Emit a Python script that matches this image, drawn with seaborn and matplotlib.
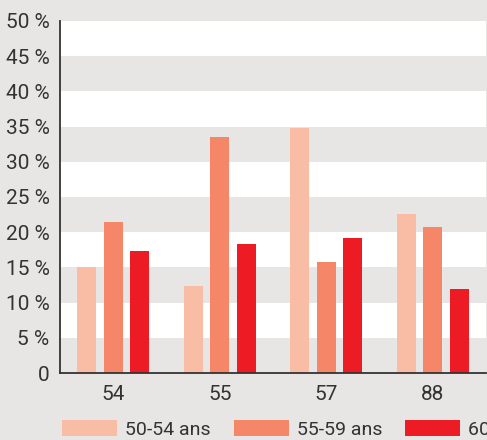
import matplotlib
matplotlib.use("Agg")
import matplotlib.pyplot as plt
import seaborn as sns
import pandas as pd

categories = ["54", "55", "57", "88"]
series_names = ["50-54 ans", "55-59 ans", "60 ans et plus"]
v_50_54 = [15.0, 12.4, 34.8, 22.6]
v_55_59 = [21.5, 33.5, 15.8, 20.7]
v_60 = [17.4, 18.3, 19.2, 11.9]
y_ticks = [0, 5, 10, 15, 20, 25, 30, 35, 40, 45, 50]
y_tick_labels = ["0"] + [f"{t} %" for t in y_ticks[1:]]

rows = []
for name, vals in zip(series_names, [v_50_54, v_55_59, v_60]):
    for c, v in zip(categories, vals):
        rows.append({"dep": c, "age": name, "val": v})
df = pd.DataFrame(rows)

sns.set_theme(style="white")
plt.rcParams['font.family'] = ['Roboto', 'DejaVu Sans']
bg = "#e8e6e5"
palette = ["#f9bca5", "#f58668", "#ed1c24"]
fs = 15
lfs = 14

fig = plt.figure(figsize=(4.87, 4.40), dpi=100, facecolor=bg)
ax = fig.add_axes([60/487, 67/440, 426/487, 352/440])
ax.set_facecolor("white")
for lo in range(0, 50, 10):
    ax.axhspan(lo, lo + 5, color=bg, lw=0, zorder=0)

sns.barplot(data=df, x="dep", y="val", hue="age", palette=palette,
            order=categories, hue_order=series_names,
            width=0.75, gap=0.28, saturation=1, ax=ax, zorder=2, legend=True,
            linewidth=0, edgecolor="none")

ax.set_xlim(-0.5, 3.5)
ax.set_ylim(0, 50)
ax.set_yticks(y_ticks)
ax.set_yticklabels(y_tick_labels)
ax.set_xlabel("")
ax.set_ylabel("")
ax.tick_params(axis="y", length=0, labelsize=fs, colors="#333333", pad=7.5)
ax.tick_params(axis="x", length=0, labelsize=fs, colors="#333333", pad=8.5)
for s in ["top", "right"]:
    ax.spines[s].set_visible(False)
for s in ["left", "bottom"]:
    ax.spines[s].set_color("#333333")
    ax.spines[s].set_linewidth(1.3)
    ax.spines[s].set_zorder(5)

handles, labels = ax.get_legend_handles_labels()
px = lfs * 100 / 72
ax.legend(handles, labels, loc="upper left", bbox_to_anchor=(2/426, -0.134),
          ncol=3, frameon=False, fontsize=lfs, handlelength=55/px, handleheight=17/px,
          handletextpad=8/px, columnspacing=23/px, labelcolor="#333333",
          borderaxespad=0, borderpad=0)

fig.savefig("out.png", dpi=100, facecolor=bg)
